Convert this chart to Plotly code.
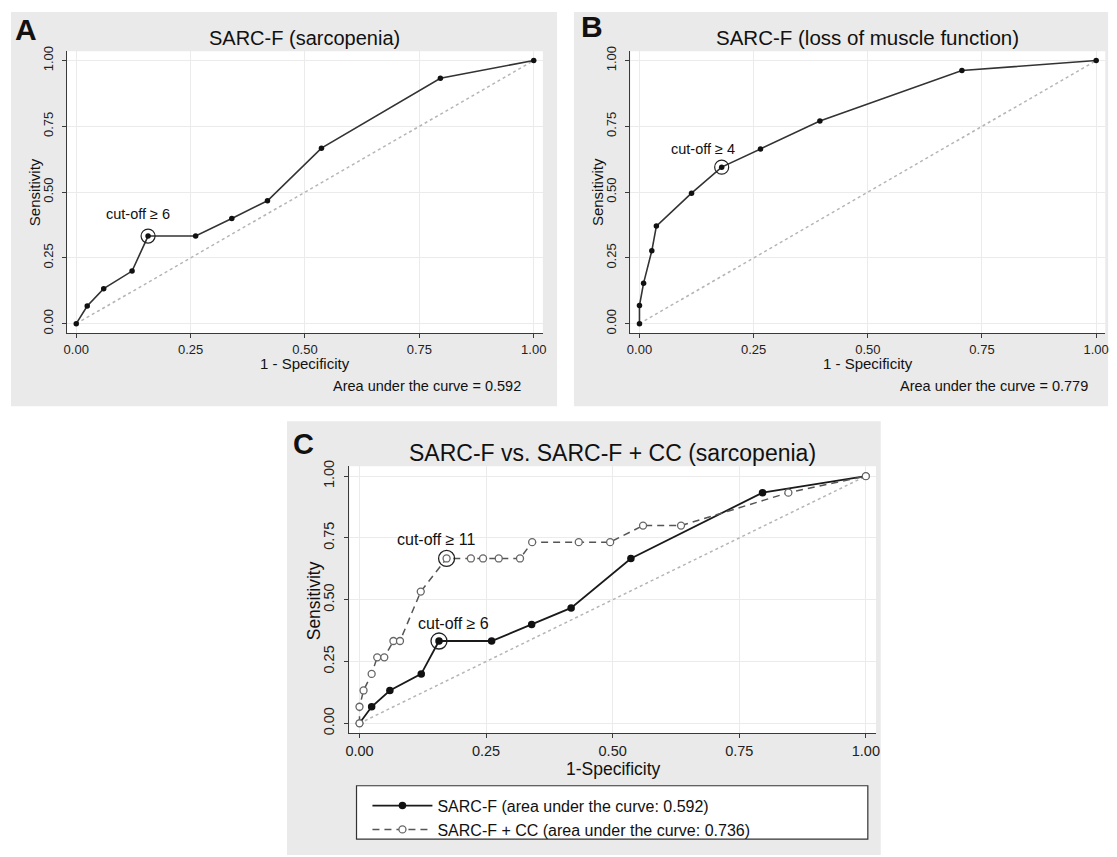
import plotly.graph_objects as go

W, H = 1117, 857
OFF = 8  # page body margin of the exported html
FONT = "Liberation Sans, Arial, Helvetica, sans-serif"

# ---------------- data ----------------
TICKS = [0, 0.25, 0.5, 0.75, 1.0]

# Panel A: SARC-F (sarcopenia)
A_fpr = [0.0, 0.024, 0.060, 0.122, 0.157, 0.261, 0.340, 0.418, 0.536, 0.796, 1.0]
A_tpr = [0.0, 0.067, 0.133, 0.200, 0.333, 0.333, 0.400, 0.467, 0.667, 0.933, 1.0]
A_cut = 4
A_cut_label = "cut-off \u2265 6"
A_auc = "Area under the curve = 0.592"

# Panel B: SARC-F (loss of muscle function)
B_fpr = [0.0, 0.0, 0.009, 0.027, 0.037, 0.114, 0.180, 0.265, 0.395, 0.706, 1.0]
B_tpr = [0.0, 0.069, 0.154, 0.277, 0.371, 0.496, 0.595, 0.664, 0.770, 0.962, 1.0]
B_cut = 6
B_cut_label = "cut-off \u2265 4"
B_auc = "Area under the curve = 0.779"

# Panel C: SARC-F + CC
C_fpr = [0.0, 0.0, 0.008, 0.024, 0.035, 0.049, 0.067, 0.080, 0.121, 0.172, 0.220,
         0.244, 0.275, 0.317, 0.341, 0.433, 0.495, 0.560, 0.635, 0.847, 1.0]
C_tpr = [0.0, 0.067, 0.133, 0.200, 0.267, 0.267, 0.333, 0.333, 0.533, 0.667, 0.667,
         0.667, 0.667, 0.667, 0.733, 0.733, 0.733, 0.800, 0.800, 0.933, 1.0]
C_cut = 9
C_cut_label = "cut-off \u2265 11"
C_name_sarcf = "SARC-F (area under the curve: 0.592)"
C_name_cc = "SARC-F + CC (area under the curve: 0.736)"

REF = [0.0, 1.0]

# ---------------- layout geometry (page pixels) ----------------
def px_x(p):
    return (p - OFF) / W


def px_y(p):
    return 1 - (p - OFF) / H


XR = [-0.02, 1.02]
YR_AB = [-0.035, 1.035]
YR_C = [-0.04, 1.04]

A_box = (63.5, 542.7, 45.7, 329.9)     # left, right, top, bottom
B_box = (630.8, 1109.2, 45.7, 329.9)
C_box = (347.8, 878.2, 464.5, 734.0)


def axes(box, yr, fs):
    l, r, t, b = box
    common = dict(showgrid=True, gridcolor="#ebebeb", gridwidth=1, zeroline=False,
                  showline=True, linecolor="#3a3a3a", linewidth=1.3,
                  ticks="outside", ticklen=4, tickwidth=1.2, tickcolor="#3a3a3a",
                  tickvals=TICKS, tickformat=".2f", fixedrange=True,
                  tickfont=dict(family=FONT, size=fs, color="#222"))
    xa = dict(common, range=XR, domain=[px_x(l), px_x(r)])
    ya = dict(common, range=yr, domain=[px_y(b), px_y(t)], tickangle=-90,
              ticklabelstandoff=4)
    return xa, ya


fig = go.Figure()

DIAG = dict(color="#b5b5b5", width=1.5, dash="dot")


def roc(xs, ys, ax, ay, line, marker, name=None, legend=False):
    fig.add_trace(go.Scatter(x=xs, y=ys, xaxis=ax, yaxis=ay, mode="lines+markers",
                             line=line, marker=marker, name=name, showlegend=legend,
                             hoverinfo="x+y"))


# Panel A
fig.add_trace(go.Scatter(x=REF, y=REF, xaxis="x", yaxis="y", mode="lines", line=DIAG,
                         showlegend=False, hoverinfo="skip"))
roc(A_fpr, A_tpr, "x", "y", dict(color="#333", width=1.6), dict(size=5.5, color="#111"))
fig.add_trace(go.Scatter(x=[A_fpr[A_cut]], y=[A_tpr[A_cut]], xaxis="x", yaxis="y",
                         mode="markers", showlegend=False,
                         marker=dict(symbol="circle-open", size=14, color="#222",
                                     line=dict(width=1.2))))

# Panel B
fig.add_trace(go.Scatter(x=REF, y=REF, xaxis="x2", yaxis="y2", mode="lines", line=DIAG,
                         showlegend=False, hoverinfo="skip"))
roc(B_fpr, B_tpr, "x2", "y2", dict(color="#333", width=1.6), dict(size=5.5, color="#111"))
fig.add_trace(go.Scatter(x=[B_fpr[B_cut]], y=[B_tpr[B_cut]], xaxis="x2", yaxis="y2",
                         mode="markers", showlegend=False,
                         marker=dict(symbol="circle-open", size=14, color="#222",
                                     line=dict(width=1.2))))

# Panel C
fig.add_trace(go.Scatter(x=REF, y=REF, xaxis="x3", yaxis="y3", mode="lines", line=DIAG,
                         showlegend=False, hoverinfo="skip"))
roc(A_fpr, A_tpr, "x3", "y3", dict(color="#1a1a1a", width=1.8),
    dict(size=7.5, color="#111"), name=C_name_sarcf, legend=True)
roc(C_fpr, C_tpr, "x3", "y3", dict(color="#555", width=1.5, dash="7px,5px"),
    dict(size=7, color="white", line=dict(color="#666", width=1.3)),
    name=C_name_cc, legend=True)
fig.add_trace(go.Scatter(x=[A_fpr[A_cut], C_fpr[C_cut]], y=[A_tpr[A_cut], C_tpr[C_cut]],
                         xaxis="x3", yaxis="y3", mode="markers", showlegend=False,
                         marker=dict(symbol="circle-open", size=16, color="#222",
                                     line=dict(width=1.3))))

xa, ya = axes(A_box, YR_AB, 13)
xb, yb = axes(B_box, YR_AB, 13)
xc, yc = axes(C_box, YR_C, 14.5)
xa.update(anchor="y"); ya.update(anchor="x")
xb.update(anchor="y2"); yb.update(anchor="x2")
xc.update(anchor="y3"); yc.update(anchor="x3")

# ---------------- shapes ----------------
shapes = []
for (l, r, t, b) in [(7, 557, 6, 404), (574, 1112, 6, 404), (285, 883, 419, 857)]:
    shapes.append(dict(type="rect", xref="paper", yref="paper", layer="below",
                       x0=px_x(l), x1=px_x(r), y0=px_y(b), y1=px_y(t),
                       fillcolor="#eaeaea", line=dict(width=0)))
for (l, r, t, b) in [A_box, B_box, C_box]:
    shapes.append(dict(type="rect", xref="paper", yref="paper", layer="below",
                       x0=px_x(l), x1=px_x(r), y0=px_y(b), y1=px_y(t),
                       fillcolor="white", line=dict(width=0)))
# legend frame
shapes.append(dict(type="rect", xref="paper", yref="paper", layer="below",
                   x0=px_x(355), x1=px_x(870), y0=px_y(841), y1=px_y(787),
                   fillcolor="white", line=dict(color="#333", width=1.2)))

# ---------------- annotations ----------------
ann = []


def text(x, y, s, size, xanchor="center", bold=False, angle=0, ref="paper", xr=None, yr=None):
    if ref == "paper":
        xx, yy, xrf, yrf = px_x(x), px_y(y), "paper", "paper"
    else:
        xx, yy, xrf, yrf = x, y, xr, yr
    ann.append(dict(x=xx, y=yy, xref=xrf, yref=yrf, text=("<b>%s</b>" % s) if bold else s,
                    showarrow=False, xanchor=xanchor, yanchor="middle", textangle=angle,
                    font=dict(family=FONT, size=size, color="#111")))


# panel letters
text(22, 24, "A", 30, bold=True)
text(592, 21, "B", 30, bold=True)
text(302, 442, "C", 29, bold=True)
# titles
text(303, 32, "SARC-F (sarcopenia)", 20)
text(870, 32, "SARC-F (loss of muscle function)", 20.5)
text(613, 451, "SARC-F vs. SARC-F + CC (sarcopenia)", 23)
# axis titles
text(30, 188, "Sensitivity", 15, angle=-90)
text(598, 188, "Sensitivity", 15, angle=-90)
text(313, 600, "Sensitivity", 17.5, angle=-90)
text(303, 361, "1 - Specificity", 15)
text(870, 361, "1 - Specificity", 15)
text(614, 770, "1-Specificity", 17.5)
# AUC notes
text(523, 384, A_auc, 14.5, xanchor="right")
text(1094, 384, B_auc, 14.5, xanchor="right")
# cut-off labels (data coordinates)
text(0.134, 0.416, A_cut_label, 14.5, ref="data", xr="x", yr="y")
text(0.14, 0.664, B_cut_label, 14.5, ref="data", xr="x2", yr="y2")
text(0.152, 0.744, C_cut_label, 16, ref="data", xr="x3", yr="y3")
text(0.185, 0.405, A_cut_label, 16, ref="data", xr="x3", yr="y3")

fig.update_layout(
    width=W, height=H, autosize=False,
    margin=dict(l=0, r=0, t=0, b=0),
    paper_bgcolor="white", plot_bgcolor="rgba(0,0,0,0)",
    xaxis=xa, yaxis=ya, xaxis2=xb, yaxis2=yb, xaxis3=xc, yaxis3=yc,
    shapes=shapes, annotations=ann,
    showlegend=True,
    legend=dict(x=px_x(366), y=px_y(790), xanchor="left", yanchor="top",
                bgcolor="rgba(0,0,0,0)", borderwidth=0, itemwidth=60,
                font=dict(family=FONT, size=16, color="#111"), tracegroupgap=2),
    font=dict(family=FONT),
)

fig.write_html("out.html", config={"displayModeBar": False})
